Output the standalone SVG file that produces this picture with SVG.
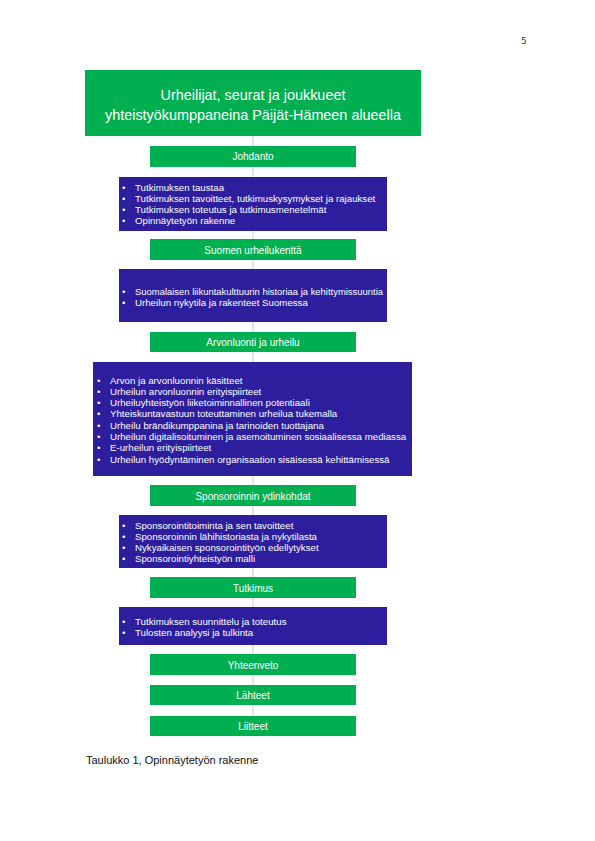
<svg xmlns="http://www.w3.org/2000/svg" width="595" height="841" viewBox="0 0 595 841">
<style>
.g{fill:#00B050}
.b{fill:#2D1E9E}
.t{font-family:"Liberation Sans",Arial,sans-serif;fill:#fff}
.h{font-size:10px;text-anchor:middle}
.l{font-size:9.7px}
.c{stroke:#c9c9c9;stroke-width:1;fill:none}
</style>
<rect width="595" height="841" fill="#fff"/>
<text x="521" y="44" font-family="'DejaVu Sans',sans-serif" font-size="9" fill="#333">5</text>
<g id="connectors"><line class="c" x1="253" y1="136" x2="253" y2="716"/></g>
<g id="title"><rect class="g" x="85" y="70" width="336" height="66"/>
<text class="t" x="253" y="100" font-size="14.4" text-anchor="middle">Urheilijat, seurat ja joukkueet</text>
<text class="t" x="253" y="120" font-size="14.4" text-anchor="middle">yhteistyökumppaneina  Päijät-Hämeen alueella</text></g>
<g id="johdanto"><rect class="g" x="150" y="146" width="206" height="21"/><text class="t h" x="253" y="160">Johdanto</text></g>
<g id="list1"><rect class="b" x="119" y="177" width="268" height="54"/>
<g class="t l"><text x="122" y="190.5">•</text><text x="135" y="190.5">Tutkimuksen taustaa</text>
<text x="122" y="201.7">•</text><text x="135" y="201.7">Tutkimuksen tavoitteet, tutkimuskysymykset ja rajaukset</text>
<text x="122" y="212.9">•</text><text x="135" y="212.9">Tutkimuksen toteutus ja tutkimusmenetelmät</text>
<text x="122" y="224.1">•</text><text x="135" y="224.1">Opinnäytetyön rakenne</text></g></g>
<g id="suomen"><rect class="g" x="150" y="239" width="206" height="21"/><text class="t h" x="253" y="253.5">Suomen urheilukenttä</text></g>
<g id="list2"><rect class="b" x="119" y="269" width="268" height="53"/>
<g class="t l"><text x="122" y="294.5">•</text><text x="135" y="294.5" textLength="248" lengthAdjust="spacingAndGlyphs">Suomalaisen liikuntakulttuurin historiaa ja kehittymissuuntia</text>
<text x="122" y="305.7">•</text><text x="135" y="305.7">Urheilun nykytila ja rakenteet Suomessa</text></g></g>
<g id="arvonluonti"><rect class="g" x="150" y="332" width="206" height="20"/><text class="t h" x="253" y="345.5">Arvonluonti ja urheilu</text></g>
<g id="list3"><rect class="b" x="93" y="362" width="319" height="114"/>
<g class="t l"><text x="97" y="383.5">•</text><text x="110" y="383.5">Arvon ja arvonluonnin käsitteet</text>
<text x="97" y="394.8">•</text><text x="110" y="394.8">Urheilun arvonluonnin erityispiirteet</text>
<text x="97" y="406.1">•</text><text x="110" y="406.1">Urheiluyhteistyön liiketoiminnallinen potentiaali</text>
<text x="97" y="417.4">•</text><text x="110" y="417.4">Yhteiskuntavastuun toteuttaminen urheilua tukemalla</text>
<text x="97" y="428.7">•</text><text x="110" y="428.7">Urheilu brändikumppanina ja tarinoiden tuottajana</text>
<text x="97" y="440">•</text><text x="110" y="440">Urheilun digitalisoituminen ja asemoituminen sosiaalisessa mediassa</text>
<text x="97" y="451.3">•</text><text x="110" y="451.3">E-urheilun erityispiirteet</text>
<text x="97" y="462.6">•</text><text x="110" y="462.6">Urheilun hyödyntäminen organisaation sisäisessä kehittämisessä</text></g></g>
<g id="sponsoroinnin"><rect class="g" x="150" y="485" width="206" height="21"/><text class="t h" x="253" y="499.5">Sponsoroinnin ydinkohdat</text></g>
<g id="list4"><rect class="b" x="119" y="515" width="268" height="53"/>
<g class="t l"><text x="122" y="528.5">•</text><text x="135" y="528.5">Sponsorointitoiminta ja sen tavoitteet</text>
<text x="122" y="539.7">•</text><text x="135" y="539.7">Sponsoroinnin lähihistoriasta ja nykytilasta</text>
<text x="122" y="550.9">•</text><text x="135" y="550.9">Nykyaikaisen sponsorointityön edellytykset</text>
<text x="122" y="562.1">•</text><text x="135" y="562.1">Sponsorointiyhteistyön malli</text></g></g>
<g id="tutkimus"><rect class="g" x="150" y="577" width="206" height="21"/><text class="t h" x="253" y="591.5">Tutkimus</text></g>
<g id="list5"><rect class="b" x="119" y="607" width="268" height="38"/>
<g class="t l"><text x="122" y="624.5">•</text><text x="135" y="624.5">Tutkimuksen suunnittelu ja toteutus</text>
<text x="122" y="635.7">•</text><text x="135" y="635.7">Tulosten analyysi ja tulkinta</text></g></g>
<g id="yhteenveto"><rect class="g" x="150" y="654" width="206" height="21"/><text class="t h" x="253" y="668.5">Yhteenveto</text></g>
<g id="lahteet"><rect class="g" x="150" y="685" width="206" height="20"/><text class="t h" x="253" y="698.5">Lähteet</text></g>
<g id="liitteet"><rect class="g" x="150" y="716" width="206" height="20"/><text class="t h" x="253" y="729.5">Liitteet</text></g>
<text x="86" y="764" font-family="'Liberation Sans',Arial,sans-serif" font-size="11" fill="#111">Taulukko 1, Opinnäytetyön rakenne</text>
</svg>
